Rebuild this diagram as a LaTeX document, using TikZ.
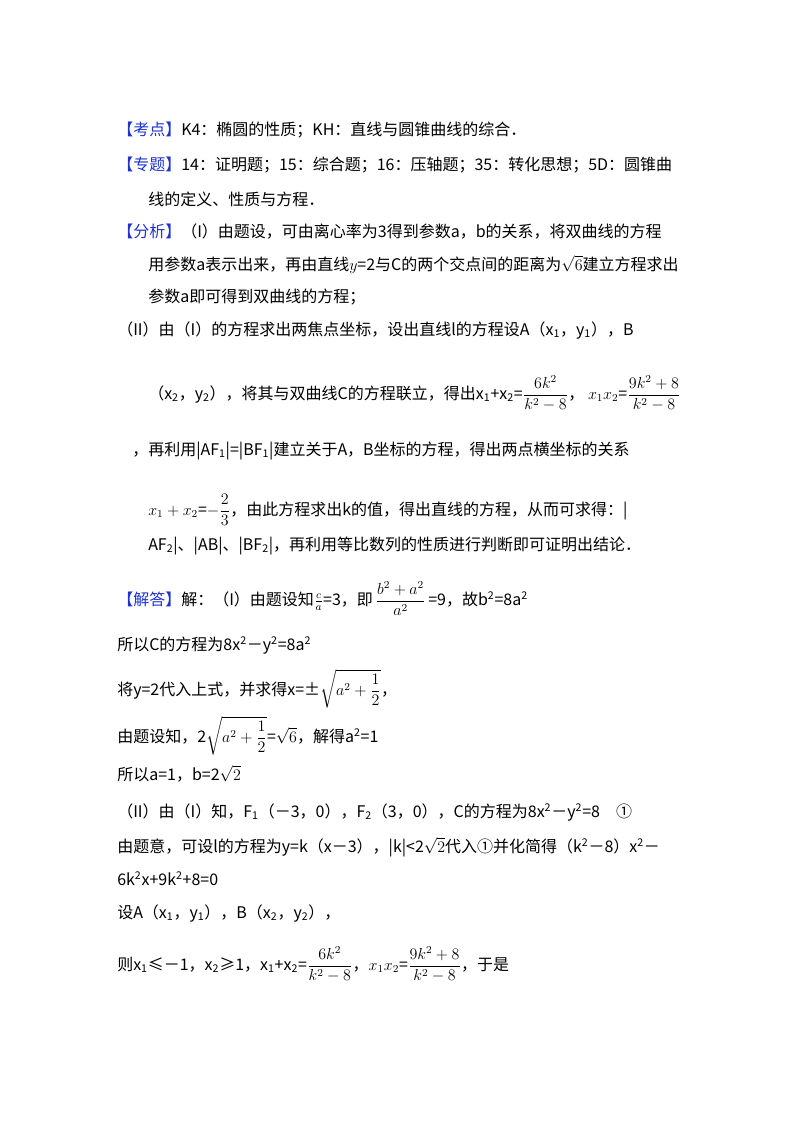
\documentclass[tikz,border=0pt]{standalone}
\usepackage{fontspec}
\setmainfont{Noto Sans CJK SC}
\usepackage{amsmath}
\definecolor{tagblue}{RGB}{30,50,210}
\newcommand{\tg}[1]{{\color{tagblue}#1}}
\begin{document}
\begin{tikzpicture}[x=0.75pt,y=-0.75pt,
  ln/.style={anchor=base west,inner sep=0pt,font=\fontsize{12}{14}\selectfont}]
\useasboundingbox (0,0) rectangle (800,1132);
\node[ln] (l1) at (117,135) {\tg{【考点】}K4：椭圆的性质；KH：直线与圆锥曲线的综合．};
\node[ln] (l2) at (117,170) {\tg{【专题】}14：证明题；15：综合题；16：压轴题；35：转化思想；5D：圆锥曲};
\node[ln] (l3) at (148,205) {线的定义、性质与方程．};
\node[ln] (l4) at (117,237) {\tg{【分析】}（I）由题设，可由离心率为3得到参数a，b的关系，将双曲线的方程};
\node[ln] (l5) at (148,270) {用参数a表示出来，再由直线$y$=2与C的两个交点间的距离为$\sqrt{6}$建立方程求出};
\node[ln] (l6) at (148,302) {参数a即可得到双曲线的方程；};
\node[ln] (l7) at (117,335) {（II）由（I）的方程求出两焦点坐标，设出直线l的方程设A（x\textsubscript{1}，y\textsubscript{1}），B};
\node[ln] (l8) at (148,399) {（x\textsubscript{2}，y\textsubscript{2}），将其与双曲线C的方程联立，得出x\textsubscript{1}+x\textsubscript{2}=$\dfrac{6k^2}{k^2-8}$，\ $x_1x_2$=$\dfrac{9k^2+8}{k^2-8}$};
\node[ln] (l9) at (132,455) {，再利用|AF\textsubscript{1}|=|BF\textsubscript{1}|建立关于A，B坐标的方程，得出两点横坐标的关系};
\node[ln] (l10) at (148,515) {$x_1+x_2$=$-\dfrac{2}{3}$，由此方程求出k的值，得出直线的方程，从而可求得：|};
\node[ln] (l11) at (148,550) {AF\textsubscript{2}|、|AB|、|BF\textsubscript{2}|，再利用等比数列的性质进行判断即可证明出结论．};
\node[ln] (l12) at (117,605) {\tg{【解答】}解：（I）由题设知$\frac{c}{a}$=3，即\,$\dfrac{b^2+a^2}{a^2}$\,=9，故b\textsuperscript{2}=8a\textsuperscript{2}};
\node[ln] (l13) at (117,650) {所以C的方程为8x\textsuperscript{2}－y\textsuperscript{2}=8a\textsuperscript{2}};
\node[ln] (l14) at (117,695) {将y=2代入上式，并求得x=±$\sqrt{a^2+\dfrac{1}{2}}$，};
\node[ln] (l15) at (117,742) {由题设知，2$\sqrt{a^2+\dfrac{1}{2}}$=$\sqrt{6}$，解得a\textsuperscript{2}=1};
\node[ln] (l16) at (117,780) {所以a=1，b=2$\sqrt{2}$};
\node[ln] (l17) at (117,817) {（II）由（I）知，F\textsubscript{1}（－3，0），F\textsubscript{2}（3，0），C的方程为8x\textsuperscript{2}－y\textsuperscript{2}=8\quad ①};
\node[ln] (l18) at (117,852) {由题意，可设l的方程为y=k（x－3），|k|<2$\sqrt{2}$代入①并化简得（k\textsuperscript{2}－8）x\textsuperscript{2}－};
\node[ln] (l19) at (117,885) {6k\textsuperscript{2}x+9k\textsuperscript{2}+8=0};
\node[ln] (l20) at (117,918) {设A（x\textsubscript{1}，y\textsubscript{1}），B（x\textsubscript{2}，y\textsubscript{2}），};
\node[ln] (l21) at (117,970) {则x\textsubscript{1}≤－1，x\textsubscript{2}≥1，x\textsubscript{1}+x\textsubscript{2}=$\dfrac{6k^2}{k^2-8}$，$x_1x_2$=$\dfrac{9k^2+8}{k^2-8}$，于是};
\end{tikzpicture}
\end{document}
